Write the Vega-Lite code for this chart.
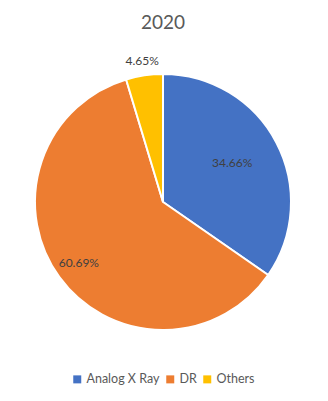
{
  "$schema": "https://vega.github.io/schema/vega-lite/v6.json",
  "width": 256,
  "height": 256,
  "autosize": {"type": "none"},
  "padding": {"top": 74, "left": 35, "right": 37, "bottom": 71},
  "background": "white",
  "title": {
    "text": "2020",
    "font": "Lato",
    "fontSize": 19,
    "fontWeight": "normal",
    "color": "#595959",
    "anchor": "middle",
    "frame": "group",
    "offset": 22
  },
  "data": {
    "values": [
      {"Category": "Analog X Ray", "Share": 0.3466},
      {"Category": "DR", "Share": 0.6069},
      {"Category": "Others", "Share": 0.0465}
    ]
  },
  "encoding": {
    "theta": {"field": "Share", "type": "quantitative", "stack": true},
    "order": {"field": "Category", "type": "nominal", "sort": "ascending"},
    "color": {
      "field": "Category",
      "type": "nominal",
      "scale": {
        "domain": ["Analog X Ray", "DR", "Others"],
        "range": ["#4472C4", "#ED7D31", "#FFC000"]
      },
      "legend": {
        "title": null,
        "orient": "none",
        "legendX": 36,
        "legendY": 299,
        "direction": "horizontal",
        "symbolType": "square",
        "symbolSize": 64,
        "symbolStrokeWidth": 0,
        "labelFont": "Lato",
        "labelFontSize": 12.5,
        "labelColor": "#595959",
        "columnPadding": 4,
        "labelOffset": 3
      }
    }
  },
  "layer": [
    {
      "mark": {"type": "arc", "outerRadius": 128, "stroke": "white", "strokeWidth": 2}
    },
    {
      "mark": {"type": "text", "radius": 78, "font": "Lato", "fontSize": 12, "color": "#404040", "dy": -3},
      "encoding": {
        "color": {"value": "#404040"},
        "text": {
          "condition": {"test": "datum.Category === 'Analog X Ray'", "field": "Share", "type": "quantitative", "format": ".2%"},
          "value": ""
        }
      }
    },
    {
      "mark": {"type": "text", "radius": 104, "font": "Lato", "fontSize": 12, "color": "#404040"},
      "encoding": {
        "color": {"value": "#404040"},
        "text": {
          "condition": {"test": "datum.Category === 'DR'", "field": "Share", "type": "quantitative", "format": ".2%"},
          "value": ""
        }
      }
    },
    {
      "mark": {"type": "text", "radius": 143, "font": "Lato", "fontSize": 12, "color": "#404040"},
      "encoding": {
        "color": {"value": "#404040"},
        "text": {
          "condition": {"test": "datum.Category === 'Others'", "field": "Share", "type": "quantitative", "format": ".2%"},
          "value": ""
        }
      }
    }
  ],
  "config": {
    "view": {"stroke": null}
  }
}
